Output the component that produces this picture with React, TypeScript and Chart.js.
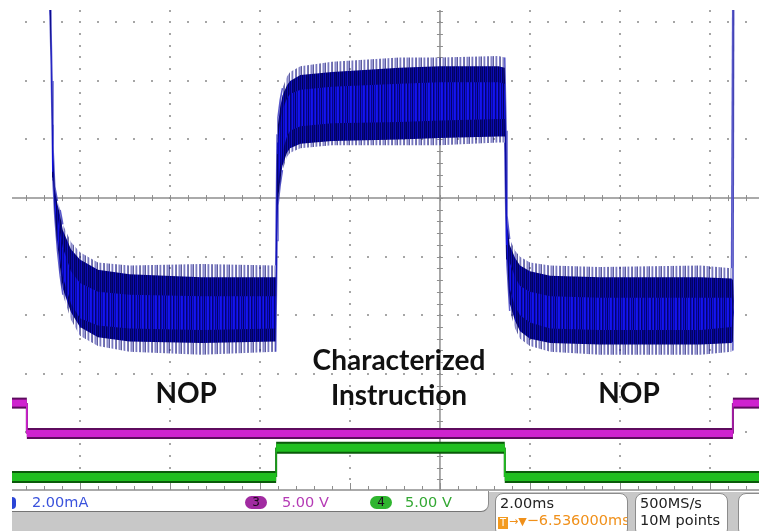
import React, { useEffect, useRef } from "react";
import { Chart, registerables } from "chart.js";

Chart.register(...registerables);

// ---- Channel 1 (current, 2.00 mA/div) : envelope of the noisy trace ----
const blueTimeMs = [
  -9.51, -8.7, -8.66, -8.64, -8.62, -8.6, -8.56, -8.5, -8.44, -8.38, -8.2, -8.0, -7.6, -6.9, -5.3, -3.65,
  -3.62, -3.6, -3.55, -3.5, -3.4, -3.33, -3.1, -2.4, -0.9, 0, 1.3, 1.44,
  1.47, 1.49, 1.55, 1.67, 1.78, 2.0, 2.45, 3.55, 5.8, 6.48, 6.51, 6.53, 7.09,
];
const ch1OuterHigh = [
  8, 8, 8, 5.6, 4.0, 1.8, 0.4, -0.1, -0.4, -0.9, -1.5, -1.85, -2.2, -2.3, -2.25, -2.3,
  2.15, 2.75, 3.35, 3.75, 4.15, 4.3, 4.5, 4.65, 4.8, 4.8, 4.85, 4.8,
  2.3, -0.6, -1.4, -1.8, -2.0, -2.2, -2.3, -2.35, -2.3, -2.4, 8, 8, 8,
];
const ch1OuterLow = [
  8, 8, 5.9, 4.55, 2.5, 0.6, -0.6, -1.8, -2.65, -3.3, -4.15, -4.7, -5.05, -5.25, -5.35, -5.25,
  -1.45, -0.25, 0.45, 0.95, 1.4, 1.55, 1.7, 1.8, 1.8, 1.8, 1.9, 1.9,
  -1.25, -2.3, -3.85, -4.45, -4.8, -5.05, -5.25, -5.35, -5.35, -5.25, -5.2, 8, 8,
];
const ch1DenseHigh = [
  8, 8, 8, 5.4, 3.9, 1.7, 0.3, -0.2, -0.6, -1.1, -1.75, -2.1, -2.45, -2.6, -2.7, -2.7,
  1.9, 2.5, 3.1, 3.5, 3.85, 4.0, 4.2, 4.3, 4.45, 4.5, 4.5, 4.45,
  2.1, -0.8, -1.6, -2.05, -2.3, -2.5, -2.65, -2.7, -2.7, -2.75, -2.8, -3.5, -3.5,
];
const ch1DenseLow = [
  8, 8, 5.9, 4.6, 2.55, 0.7, -0.5, -1.6, -2.4, -3.1, -3.9, -4.4, -4.75, -4.9, -4.95, -4.9,
  -1.3, -0.1, 0.6, 1.1, 1.55, 1.7, 1.85, 1.95, 2.0, 2.05, 2.1, 2.1,
  -1.1, -2.1, -3.6, -4.2, -4.55, -4.8, -4.95, -5.0, -5.0, -4.95, -4.9, -3.5, -3.5,
];
const ch1CoreHigh = [
  8, 8, 8, 5.3, 3.6, 1.4, 0.0, -0.6, -1.2, -1.7, -2.5, -2.9, -3.2, -3.3, -3.35, -3.35,
  1.5, 2.0, 2.6, 3.0, 3.4, 3.55, 3.7, 3.8, 3.9, 3.95, 3.95, 3.9,
  1.6, -1.2, -2.2, -2.7, -3.0, -3.2, -3.35, -3.4, -3.4, -3.4, -3.7, -3.9, -3.9,
];
const ch1CoreLow = [
  8, 8, 6.2, 4.8, 2.9, 0.9, -0.3, -1.3, -2.1, -2.7, -3.6, -4.1, -4.35, -4.45, -4.5, -4.45,
  -0.6, 0.4, 1.1, 1.6, 2.1, 2.3, 2.45, 2.55, 2.6, 2.65, 2.7, 2.7,
  -0.5, -1.6, -3.1, -3.7, -4.0, -4.25, -4.45, -4.5, -4.5, -4.4, -4.1, -3.9, -3.9,
];

// ---- Channel 3 and 4 (digital, 5.00 V/div, screen offset) ----
const ch3TimeMs = [-9.51, -9.18, -9.18, 6.51, 6.51, 7.09];
const ch3Volts = [-17.5, -17.5, -20.1, -20.1, -17.5, -17.5];
const ch4TimeMs = [-9.51, -3.64, -3.64, 1.44, 1.44, 7.09];
const ch4Volts = [-23.8, -23.8, -21.3, -21.3, -23.8, -23.8];

// ---- annotations ----
const labelTexts = ["NOP", "Characterized", "Instruction", "NOP"];
const labelTimeMs = [-5.64, -0.91, -0.91, 4.2];
const labelLevelmA = [-7.0, -5.87, -7.07, -7.0];

// ---- axes ----
const X_MIN = -9.51;
const X_MAX = 7.09;
const Y_MIN = -10;
const Y_MAX = 6.42;
const V_MIN = -25;
const V_MAX = 16.05;
const MAJOR_T = 2;
const MINOR_T = 0.4;
const MAJOR_I = 2;
const MINOR_I = 0.4;

// ---- texture styles (column colours of repeating stripe patterns) ----
const fringeStripes = [
  "rgba(90,90,190,0.6)", "rgba(20,20,110,0.7)", "rgba(255,255,255,0)", "rgba(110,110,200,0.5)",
  "rgba(30,30,140,0.6)", "rgba(150,150,215,0.4)", "rgba(255,255,255,0)", "rgba(60,60,170,0.7)",
  "rgba(15,15,100,0.6)", "rgba(255,255,255,0)", "rgba(120,120,205,0.5)", "rgba(40,40,150,0.55)",
];
const denseStripes = [
  "#02025c", "#0a0aa6", "#000070", "#0e0eb8", "#03035e", "#07078c", "#00006a", "#0d0db4",
  "#020256", "#0808a0", "#000078", "#1010c0", "#04045f", "#06068a",
];
const coreStripes = [
  "#1111e8", "#04047a", "#0c0cc8", "#1616f2", "#030370", "#0a0ab0", "#1313ea", "#050588",
  "#0e0ed6", "#02026a", "#1010dc", "#0808a4", "#1515ee",
];

const pts = (xs: number[], ys: number[]) => xs.map((x, i) => ({ x, y: ys[i] }));
const stepWidth = (thick: number, thin: number) => (c: any) =>
  c.p0.parsed.x === c.p1.parsed.x ? thin : thick;
const steepColor = (color: string) => (c: any) =>
  Math.abs(c.p1.y - c.p0.y) > 4 * Math.abs(c.p1.x - c.p0.x) ? color : "rgba(0,0,0,0)";

function makePattern(cols: string[]): CanvasPattern | string {
  const c = document.createElement("canvas");
  c.width = cols.length;
  c.height = 1;
  const g = c.getContext("2d");
  if (!g) return cols[0];
  cols.forEach((col, i) => {
    g.fillStyle = col;
    g.fillRect(i, 0, 1, 1);
  });
  return g.createPattern(c, "repeat") || cols[0];
}

const graticulePlugin = {
  id: "graticule",
  beforeDatasetsDraw(chart: any) {
    const { ctx, chartArea: a, scales } = chart;
    const x = scales.x;
    const y = scales.y;
    ctx.save();
    ctx.fillStyle = "#a6a6a6";
    const dot = (px: number, py: number) => ctx.fillRect(Math.round(px) - 1, Math.round(py) - 1, 2, 2);
    const kT0 = Math.ceil(X_MIN / MINOR_T - 1e-9);
    const kT1 = Math.floor(X_MAX / MINOR_T + 1e-9);
    const kI0 = Math.ceil(Y_MIN / MINOR_I - 1e-9);
    const kI1 = Math.floor(Y_MAX / MINOR_I + 1e-9);
    for (let m = Math.ceil(X_MIN / MAJOR_T); m * MAJOR_T <= X_MAX; m++) {
      if (m === 0) continue;
      const px = x.getPixelForValue(m * MAJOR_T);
      for (let k = kI0 + 1; k <= kI1; k++) dot(px, y.getPixelForValue(k * MINOR_I));
    }
    for (let m = Math.ceil(Y_MIN / MAJOR_I) + 1; m * MAJOR_I <= Y_MAX; m++) {
      if (m === 0) continue;
      const py = y.getPixelForValue(m * MAJOR_I);
      for (let k = kT0; k <= kT1; k++) dot(x.getPixelForValue(k * MINOR_T), py);
    }
    const y0 = y.getPixelForValue(0);
    const x0 = x.getPixelForValue(0);
    const yb = y.getPixelForValue(Y_MIN) - 1;
    ctx.strokeStyle = "#8e8e8e";
    ctx.lineWidth = 1.5;
    ctx.beginPath();
    ctx.moveTo(a.left, y0);
    ctx.lineTo(a.right, y0);
    ctx.moveTo(x0, a.top);
    ctx.lineTo(x0, a.bottom);
    ctx.moveTo(a.left, yb);
    ctx.lineTo(a.right, yb);
    ctx.stroke();
    ctx.lineWidth = 1;
    ctx.beginPath();
    for (let k = kT0; k <= kT1; k++) {
      const px = Math.round(x.getPixelForValue(k * MINOR_T)) + 0.5;
      ctx.moveTo(px, y0 - 3);
      ctx.lineTo(px, y0 + 3);
      ctx.moveTo(px, yb);
      ctx.lineTo(px, yb - (k % 5 === 0 ? 7 : 4));
    }
    for (let k = kI0 + 1; k <= kI1; k++) {
      const py = Math.round(y.getPixelForValue(k * MINOR_I)) + 0.5;
      ctx.moveTo(x0 - 3, py);
      ctx.lineTo(x0 + 3, py);
    }
    ctx.stroke();
    ctx.restore();
  },
};

const labelPlugin = {
  id: "annotLabels",
  afterDatasetsDraw(chart: any) {
    const { ctx, scales } = chart;
    ctx.save();
    ctx.font = "bold 28px Lato, 'Open Sans', sans-serif";
    ctx.fillStyle = "#111111";
    ctx.textAlign = "center";
    ctx.textBaseline = "alphabetic";
    labelTexts.forEach((t, i) => {
      ctx.fillText(t, scales.x.getPixelForValue(labelTimeMs[i]), scales.y.getPixelForValue(labelLevelmA[i]));
    });
    ctx.restore();
  },
};

const mono = "'DejaVu Sans', Verdana, sans-serif";

export default function App() {
  const ref = useRef<HTMLCanvasElement | null>(null);

  useEffect(() => {
    document.body.style.margin = "0";
    if (!ref.current) return;
    const fringe = makePattern(fringeStripes);
    const dense = makePattern(denseStripes);
    const core = makePattern(coreStripes);
    const edgeBlue = "rgba(80,80,200,0.95)";
    const base = { pointRadius: 0, tension: 0, borderCapStyle: "butt", borderJoinStyle: "miter" };
    const chart = new Chart(ref.current, {
      type: "line",
      data: {
        datasets: [
          { ...base, label: "CH1 outer", data: pts(blueTimeMs, ch1OuterHigh), yAxisID: "y", fill: "+1",
            backgroundColor: fringe, borderColor: edgeBlue, borderWidth: 1.5,
            segment: { borderColor: steepColor(edgeBlue) }, order: 6 },
          { ...base, label: "CH1 outer low", data: pts(blueTimeMs, ch1OuterLow), yAxisID: "y", fill: false,
            borderColor: edgeBlue, borderWidth: 1.5, segment: { borderColor: steepColor(edgeBlue) }, order: 6 },
          { ...base, label: "CH1 dense", data: pts(blueTimeMs, ch1DenseHigh), yAxisID: "y", fill: "+1",
            backgroundColor: dense, borderColor: "transparent", borderWidth: 0, order: 5 },
          { ...base, label: "CH1 dense low", data: pts(blueTimeMs, ch1DenseLow), yAxisID: "y", fill: false,
            borderColor: "transparent", borderWidth: 0, order: 5 },
          { ...base, label: "CH1 core", data: pts(blueTimeMs, ch1CoreHigh), yAxisID: "y", fill: "+1",
            backgroundColor: core, borderColor: "transparent", borderWidth: 0, order: 4 },
          { ...base, label: "CH1 core low", data: pts(blueTimeMs, ch1CoreLow), yAxisID: "y", fill: false,
            borderColor: "transparent", borderWidth: 0, order: 4 },
          { ...base, label: "CH3 edge", data: pts(ch3TimeMs, ch3Volts), yAxisID: "yV", fill: false,
            borderColor: "#5e0b5e", borderWidth: 11, segment: { borderWidth: stepWidth(11, 2) }, order: 3 },
          { ...base, label: "CH3", data: pts(ch3TimeMs, ch3Volts), yAxisID: "yV", fill: false,
            borderColor: "#cf22cf", borderWidth: 7, segment: { borderWidth: stepWidth(7, 1) }, order: 2 },
          { ...base, label: "CH4 edge", data: pts(ch4TimeMs, ch4Volts), yAxisID: "yV", fill: false,
            borderColor: "#0a5a0a", borderWidth: 12, segment: { borderWidth: stepWidth(12, 2) }, order: 1 },
          { ...base, label: "CH4", data: pts(ch4TimeMs, ch4Volts), yAxisID: "yV", fill: false,
            borderColor: "#1fbf1f", borderWidth: 8, segment: { borderWidth: stepWidth(8, 1) }, order: 0 },
        ] as any,
      },
      options: {
        responsive: false,
        maintainAspectRatio: false,
        animation: false,
        events: [],
        layout: { padding: { left: 12, top: 10, right: 0, bottom: 1 } },
        scales: {
          x: { type: "linear", min: X_MIN, max: X_MAX, display: false },
          y: { type: "linear", min: Y_MIN, max: Y_MAX, display: false },
          yV: { type: "linear", min: V_MIN, max: V_MAX, display: false },
        },
        plugins: { legend: { display: false }, tooltip: { enabled: false } },
      } as any,
      plugins: [graticulePlugin, labelPlugin],
    });
    return () => chart.destroy();
  }, []);

  const txt = (extra: React.CSSProperties): React.CSSProperties => ({
    position: "absolute",
    fontFamily: mono,
    fontSize: 14.5,
    lineHeight: "17px",
    whiteSpace: "nowrap",
    ...extra,
  });
  const badge = (left: number, bg: string, label: string) => (
    <div style={{ position: "absolute", left, top: 496, width: 22, height: 13, borderRadius: 7, background: bg,
      fontFamily: mono, fontSize: 12, lineHeight: "13px", textAlign: "center", color: "#1a0a1a" }}>{label}</div>
  );
  const box = (left: number, width: number) => ({
    position: "absolute" as const, left, top: 493, width, height: 44, background: "#fff",
    border: "1.5px solid #8c8c8c", borderRadius: 8, boxSizing: "border-box" as const, overflow: "hidden",
  });

  return (
    <div style={{ position: "relative", width: 759, height: 531, overflow: "hidden", background: "#fff" }}>
      <canvas ref={ref} width={759} height={492} style={{ position: "absolute", left: 0, top: 0, width: 759, height: 492 }} />
      <div style={{ position: "absolute", left: 12, top: 492, width: 747, height: 39, background: "#c8c8c8" }} />
      <div style={{ position: "absolute", left: 12, top: 491, width: 476, height: 20, background: "#fff",
        borderBottom: "1px solid #747474", borderRight: "1.5px solid #8c8c8c", borderBottomRightRadius: 8 }} />
      <div style={{ position: "absolute", left: 12, top: 497, width: 4, height: 12, background: "#2a44d6",
        borderRadius: "0 6px 6px 0" }} />
      <div style={txt({ left: 32, top: 494, color: "#3a52dc" })}>2.00mA</div>
      {badge(245, "#a12ba1", "3")}
      <div style={txt({ left: 282, top: 494, color: "#b53ab5" })}>5.00 V</div>
      {badge(370, "#2fb52f", "4")}
      <div style={txt({ left: 405, top: 494, color: "#33a833" })}>5.00 V</div>

      <div style={box(495, 133)}>
        <div style={txt({ left: 4, top: 1, color: "#222" })}>2.00ms</div>
        <div style={txt({ left: 2, top: 18, color: "#f0901a" })}>
          <span style={{ display: "inline-block", width: 10, height: 12, background: "#f39a1e", color: "#fff",
            fontSize: 10, lineHeight: "12px", textAlign: "center", verticalAlign: "-1px", marginRight: 1 }}>T</span>
          <span style={{ fontSize: 11 }}>→▼</span>−6.536000ms
        </div>
      </div>
      <div style={box(635, 93)}>
        <div style={txt({ left: 4, top: 1, color: "#222" })}>500MS/s</div>
        <div style={txt({ left: 4, top: 18, color: "#222" })}>10M points</div>
      </div>
      <div style={box(738, 40)} />
    </div>
  );
}
